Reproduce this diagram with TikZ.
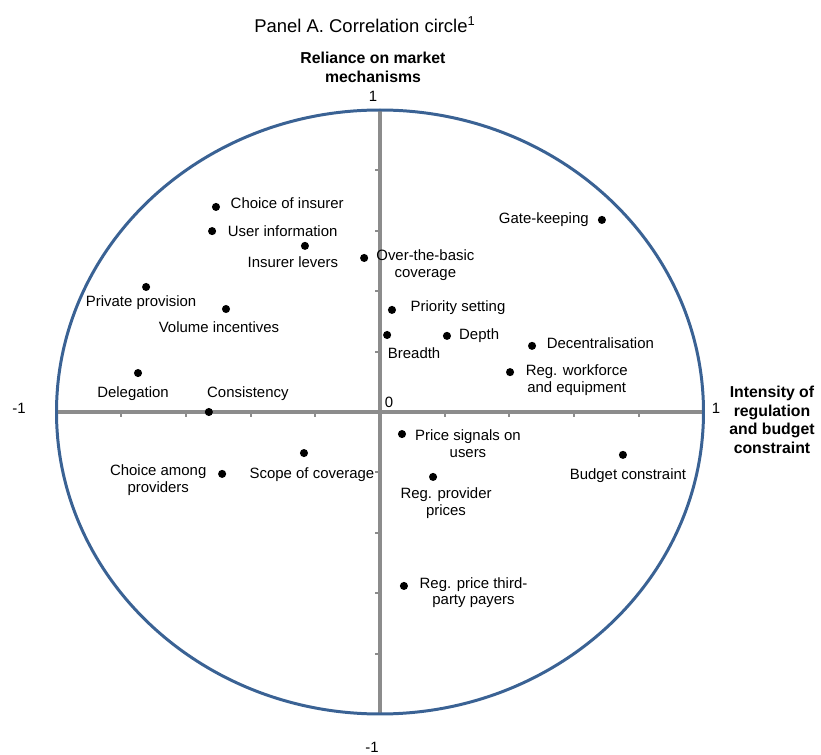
\documentclass[tikz,border=0pt]{standalone}
\usepackage{fontspec}
\setmainfont{Liberation Sans}
\usetikzlibrary{positioning}
\definecolor{circblue}{RGB}{58,98,148}
\definecolor{axgray}{RGB}{140,140,140}
\tikzstyle{dot}=[circle,fill=black,inner sep=0pt,minimum size=4.6pt]
\tikzstyle{lbl}=[inner sep=0pt,align=center,font=\fontsize{8.5}{9.4}\selectfont]

\begin{document}
\begin{tikzpicture}[x=6.47cm,y=6.04cm]
    \tikzstyle{axis}=[draw=axgray,line width=1.9pt]
    \tikzstyle{ttl}=[align=center,inner sep=0pt,font=\fontsize{9}{10.6}\selectfont\bfseries]
    \useasboundingbox (-7.6cm,-6.86cm) rectangle (8.82cm,8.24cm);
    % axes and ticks
    \draw[axis] (-1,0) -- (1,0);
    \draw[axis] (0,-1) -- (0,1);
    \foreach \i in {-5,...,5} {
      \draw[axis,line width=1.2pt] (\i/5,0) -- ++(0,-0.1cm);
      \draw[axis,line width=1.2pt] (0,\i/5) -- ++(-0.1cm,0);
    }
    \draw[circblue,line width=1.7pt] (0,0) ellipse (6.47cm and 6.04cm);
    % scale numbers
    \node[lbl] (xmin) at (-7.22cm,0.08cm) {-1};
    \node[lbl] (xmax) at (6.72cm,0.08cm) {1};
    \node[lbl] (orig) at (0.18cm,0.2cm) {0};
    \node[lbl] (ymax) at (-0.14cm,6.32cm) {1};
    \node[lbl] (ymin) at (-0.16cm,-6.7cm) {-1};
    % titles
    \node[inner sep=0pt,font=\fontsize{10.5}{12}\selectfont] (title) at (-0.3cm,7.74cm) {Panel A. Correlation circle\textsuperscript{1}};
    \node[ttl] (ytitle) at (-0.14cm,6.89cm) {Reliance on market\\mechanisms};
    \node[ttl] (xtitle) at (7.84cm,-0.16cm) {Intensity of\\regulation\\and budget\\constraint};
    % points
    \node[dot] (ci) at (-0.507,0.679) {};
    \node[dot] (ui) at (-0.519,0.599) {};
    \node[dot] (il) at (-0.232,0.550) {};
    \node[dot] (ob) at (-0.049,0.510) {};
    \node[dot] (pp) at (-0.723,0.414) {};
    \node[dot] (vi) at (-0.476,0.341) {};
    \node[dot] (dl) at (-0.748,0.129) {};
    \node[dot] (co) at (-0.529,0.0) {};
    \node[dot] (gk) at (0.686,0.636) {};
    \node[dot] (ps) at (0.037,0.338) {};
    \node[dot] (br) at (0.022,0.255) {};
    \node[dot] (de) at (0.207,0.252) {};
    \node[dot] (dc) at (0.470,0.219) {};
    \node[dot] (rw) at (0.402,0.132) {};
    \node[dot] (pu) at (0.068,-0.073) {};
    \node[dot] (bc) at (0.751,-0.142) {};
    \node[dot] (rp) at (0.164,-0.215) {};
    \node[dot] (rt) at (0.074,-0.576) {};
    \node[dot] (sc) at (-0.235,-0.136) {};
    \node[dot] (cp) at (-0.488,-0.205) {};
    % labels
    \node[lbl,right=0.2cm of ci,yshift=0.08cm] (ciL) {Choice of insurer};
    \node[lbl,right=0.22cm of ui] (uiL) {User information};
    \node[lbl,below=0.12cm of il,xshift=-0.24cm] (ilL) {Insurer levers};
    \node[lbl,right=0.15cm of ob,yshift=-0.14cm] (obL) {Over-the-basic\\coverage};
    \node[lbl,below=0.07cm of pp,xshift=-0.1cm] (ppL) {Private provision};
    \node[lbl,below=0.15cm of vi,xshift=-0.14cm] (viL) {Volume incentives};
    \node[lbl,below=0.18cm of dl,xshift=-0.1cm] (dlL) {Delegation};
    \node[lbl,above=0.13cm of co,xshift=0.78cm] (coL) {Consistency};
    \node[lbl,left=0.17cm of gk] (gkL) {Gate-keeping};
    \node[lbl,right=0.28cm of ps,yshift=0.05cm] (psL) {Priority setting};
    \node[lbl,below=0.15cm of br,xshift=0.54cm] (brL) {Breadth};
    \node[lbl,right=0.15cm of de] (deL) {Depth};
    \node[lbl,right=0.2cm of dc,yshift=0.06cm] (dcL) {Decentralisation};
    \node[lbl,right=0.22cm of rw,yshift=-0.16cm] (rwL) {Reg. workforce\\and equipment};
    \node[lbl,right=0.17cm of pu,yshift=-0.19cm] (puL) {Price signals on\\users};
    \node[lbl,below=0.18cm of bc,xshift=0.1cm] (bcL) {Budget constraint};
    \node[lbl,below=0.13cm of rp,xshift=0.26cm] (rpL) {Reg. provider\\prices};
    \node[lbl,right=0.22cm of rt,yshift=-0.13cm] (rtL) {Reg. price third-\\party payers};
    \node[lbl,below=0.2cm of sc,xshift=0.16cm] (scL) {Scope of coverage};
    \node[lbl,left=0.22cm of cp,yshift=-0.12cm] (cpL) {Choice among\\providers};
\end{tikzpicture}
\end{document}
